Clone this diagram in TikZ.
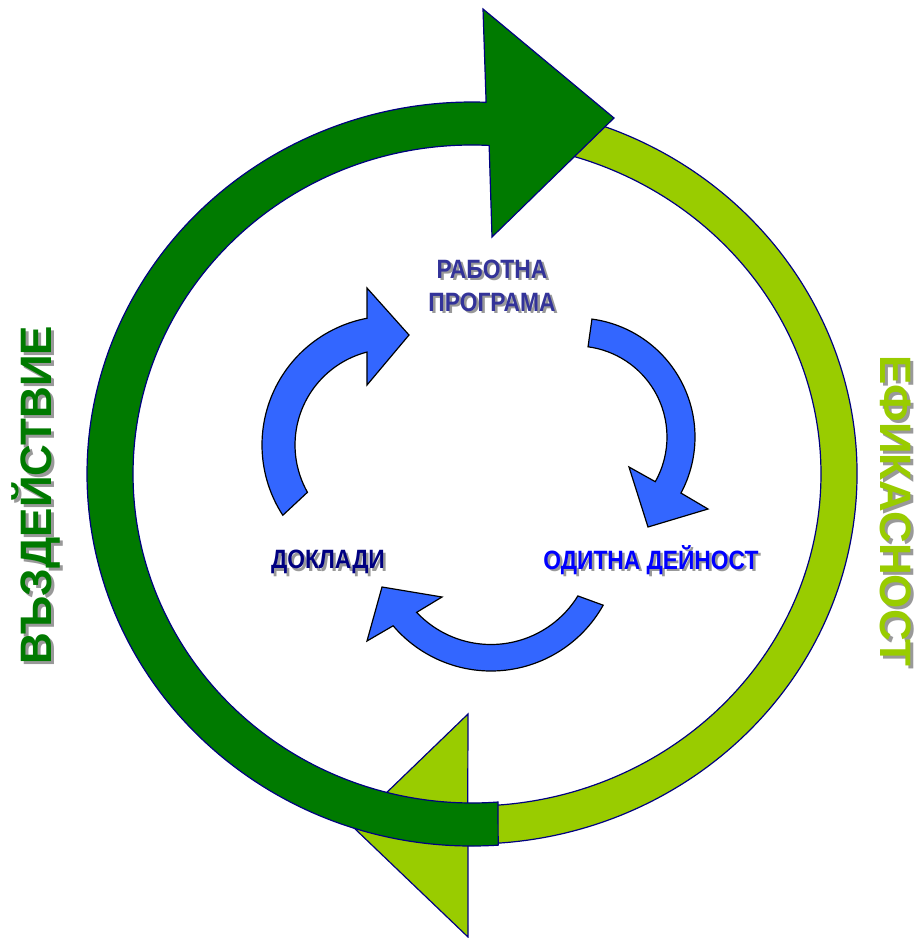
\documentclass[tikz,border=0pt]{standalone}
\usepackage{fontspec}
\setmainfont{Liberation Sans}
\definecolor{dkgreen}{HTML}{007A00}
\definecolor{ltgreen}{HTML}{99CC00}
\definecolor{arrblue}{HTML}{3366FF}
\definecolor{edgenavy}{HTML}{000080}
\definecolor{shadowgray}{HTML}{999999}
\definecolor{topblue}{HTML}{333399}
\definecolor{navytext}{HTML}{000080}
\definecolor{brightblue}{HTML}{0000FF}
\begin{document}
\begin{tikzpicture}[x=1pt,y=1pt,
  ringarrow/.style={draw=edgenavy, line width=1.2pt, line join=miter},
  bluearrow/.style={draw=black, fill=arrblue, line width=1.2pt, line join=miter},
  small/.style={inner sep=0pt, font=\fontsize{26.5}{33}\selectfont\bfseries, align=center},
  big/.style={inner sep=0pt, font=\fontsize{44}{48}\selectfont\bfseries},
  shad/.style={text=shadowgray}]
\useasboundingbox (0,0) rectangle (920,-938);
\fill[white] (0,0) rectangle (920,-938);
\coordinate (c) at (472,-474);
% light green ring arrow (efficiency)
\draw[ringarrow, fill=ltgreen] ([shift={(82:385pt and 370pt)}]c)
  arc[start angle=82, end angle=-90.6, x radius=385pt, y radius=370pt]
  -- (468,-937) -- (352,-826) -- (468,-714)
  -- ([shift={(-90.7:349pt and 332pt)}]c)
  arc[start angle=-90.7, end angle=82, x radius=349pt, y radius=332pt] -- cycle;
% dark green ring arrow (impact)
\draw[ringarrow, fill=dkgreen] ([shift={(-86.1:385pt and 372pt)}]c)
  arc[start angle=-86.1, end angle=-272.1, x radius=385pt, y radius=372pt]
  -- (483,-9) -- (614,-118) -- (492,-237)
  -- ([shift={(87.1:339pt and 329pt)}]c)
  arc[start angle=87.1, end angle=274.4, x radius=339pt, y radius=329pt] -- cycle;
% blue cycle arrows
\coordinate (L) at (391,-445);
\coordinate (R) at (576,-437);
\coordinate (B) at (491,-542.5);
\draw[bluearrow] ([shift={(213:129pt)}]L) arc[start angle=213, end angle=100.7, radius=129pt]
  -- (367,-288) -- (409,-335) -- (367,-385)
  -- ([shift={(104.5:96pt)}]L) arc[start angle=104.5, end angle=209.5, radius=96pt] -- cycle;
\draw[bluearrow] ([shift={(82.3:119pt)}]R) arc[start angle=82.3, end angle=-28.1, radius=119pt]
  -- (708,-509) -- (648,-527) -- (629,-467)
  -- ([shift={(-29.4:91pt)}]R) arc[start angle=-29.4, end angle=82.4, radius=91pt] -- cycle;
\draw[bluearrow] ([shift={(-29.2:128.5pt)}]B) arc[start angle=-29.2, end angle=-139.6, radius=128.5pt]
  -- (367,-641) -- (382,-587) -- (442,-597)
  -- ([shift={(-136.8:102pt)}]B) arc[start angle=-136.8, end angle=-31.6, radius=102pt] -- cycle;
% labels with shadows
\node[small, shad] at (494.5,-290.5) {\scalebox{0.86}[1]{\begin{tabular}{@{}c@{}}РАБОТНА\\ПРОГРАМА\end{tabular}}};
\node[small, text=topblue] (rp) at (492,-288) {\scalebox{0.86}[1]{\begin{tabular}{@{}c@{}}РАБОТНА\\ПРОГРАМА\end{tabular}}};
\node[small, shad] at (653.5,-562.5) {\scalebox{0.86}[1]{ОДИТНА ДЕЙНОСТ}};
\node[small, text=brightblue] (od) at (651,-560) {\scalebox{0.86}[1]{ОДИТНА ДЕЙНОСТ}};
\node[small, shad] at (330.5,-564.5) {\scalebox{0.86}[1]{ДОКЛАДИ}};
\node[small, text=navytext] (dk) at (328,-562) {\scalebox{0.86}[1]{ДОКЛАДИ}};
\node[big, shad, rotate=90] at (39,-498) {ВЪЗДЕЙСТВИЕ};
\node[big, text=dkgreen, rotate=90] (vz) at (36,-495) {ВЪЗДЕЙСТВИЕ};
\node[big, shad, rotate=-90] at (899,-514) {ЕФИКАСНОСТ};
\node[big, text=ltgreen, rotate=-90] (ef) at (896,-511) {ЕФИКАСНОСТ};
\end{tikzpicture}
\end{document}
